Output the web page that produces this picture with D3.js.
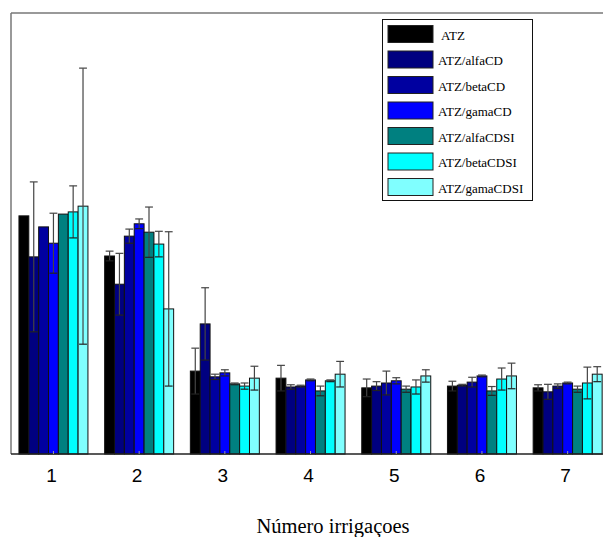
<!DOCTYPE html>
<html>
<head>
<meta charset="utf-8">
<script src="https://cdn.jsdelivr.net/npm/d3@7"></script>
<style>
  body { margin: 0; background: #fff; }
  svg { display: block; }
</style>
</head>
<body>
<script>
// Categories (number of irrigations)
const categories = ["1", "2", "3", "4", "5", "6", "7"];
const seriesNames = ["ATZ", "ATZ/alfaCD", "ATZ/betaCD", "ATZ/gamaCD", "ATZ/alfaCDSI", "ATZ/betaCDSI", "ATZ/gamaCDSI"];
const seriesColors = ["#000000", "#000080", "#0000a0", "#0000ff", "#008080", "#00ffff", "#80ffff"];

// Values (percent of axis height)
const atz         = [54.0, 44.9, 18.8, 17.2, 15.0, 15.4, 15.0];
const alfaCD      = [44.7, 38.5, 29.5, 15.2, 15.4, 15.6, 14.1];
const betaCD      = [51.5, 49.4, 17.5, 15.4, 16.1, 16.3, 15.4];
const gamaCD      = [47.8, 52.2, 18.4, 16.8, 16.6, 17.7, 16.1];
const alfaCDSI    = [54.4, 50.3, 15.9, 14.3, 14.7, 14.3, 14.7];
const betaCDSI    = [54.9, 47.6, 15.4, 16.6, 15.2, 17.0, 16.1];
const gamaCDSI    = [56.2, 32.9, 17.2, 18.1, 17.7, 17.7, 18.1];

// Error (+/-)
const atzErr      = [0.0, 1.1, 5.2, 2.9, 2.0, 1.1, 0.7];
const alfaCDErr   = [17.0, 7.0, 8.2, 0.5, 1.0, 0.2, 1.7];
const betaCDErr   = [0.0, 1.6, 0.6, 0.2, 2.7, 1.1, 0.5];
const gamaCDErr   = [6.8, 1.1, 0.7, 0.2, 0.7, 0.2, 0.2];
const alfaCDSIErr = [0.0, 5.7, 0.2, 1.1, 0.7, 1.0, 0.7];
const betaCDSIErr = [5.9, 2.9, 0.7, 0.2, 1.6, 2.5, 3.6];
const gamaCDSIErr = [31.3, 17.5, 2.7, 2.9, 1.4, 2.9, 1.7];

const values = [atz, alfaCD, betaCD, gamaCD, alfaCDSI, betaCDSI, gamaCDSI];
const errors = [atzErr, alfaCDErr, betaCDErr, gamaCDErr, alfaCDSIErr, betaCDSIErr, gamaCDSIErr];

const W = 603, H = 537;
const plotLeft = 11, plotTop = 13, plotBottom = 454;

const svg = d3.select("body").append("svg").attr("width", W).attr("height", H);

const x0 = d3.scaleBand().domain(categories).range([10.6, 610.5]).paddingInner(0.195).paddingOuter(0.0975);
const x1 = d3.scaleBand().domain(seriesNames).range([0, x0.bandwidth()]).padding(0);
const y = d3.scaleLinear().domain([0, 100]).range([plotBottom, plotTop]);

const data = [];
categories.forEach((c, i) => {
  seriesNames.forEach((s, j) => {
    data.push({cat: c, ser: s, v: values[j][i], e: errors[j][i], color: seriesColors[j]});
  });
});

svg.append("clipPath").attr("id", "clip").append("rect")
  .attr("x", plotLeft).attr("y", 0).attr("width", W - plotLeft).attr("height", plotBottom + 1);

const g = svg.append("g").attr("clip-path", "url(#clip)");

g.selectAll("rect.bar").data(data).enter().append("rect")
  .attr("class", "bar")
  .attr("x", d => x0(d.cat) + x1(d.ser))
  .attr("y", d => y(d.v))
  .attr("width", x1.bandwidth())
  .attr("height", d => plotBottom - y(d.v))
  .attr("fill", d => d.color)
  .attr("stroke", "#111")
  .attr("stroke-width", 1);

// error bars
const eb = g.selectAll("g.err").data(data.filter(d => d.e > 0)).enter().append("g").attr("class", "err");
eb.append("line")
  .attr("x1", d => x0(d.cat) + x1(d.ser) + x1.bandwidth() / 2)
  .attr("x2", d => x0(d.cat) + x1(d.ser) + x1.bandwidth() / 2)
  .attr("y1", d => y(d.v - d.e))
  .attr("y2", d => y(d.v + d.e))
  .attr("stroke", "#444").attr("stroke-width", 1.2);
eb.append("line")
  .attr("x1", d => x0(d.cat) + x1(d.ser) + 1)
  .attr("x2", d => x0(d.cat) + x1(d.ser) + x1.bandwidth() - 1)
  .attr("y1", d => y(d.v + d.e))
  .attr("y2", d => y(d.v + d.e))
  .attr("stroke", "#444").attr("stroke-width", 1.2);
eb.append("line")
  .attr("x1", d => x0(d.cat) + x1(d.ser) + 1)
  .attr("x2", d => x0(d.cat) + x1(d.ser) + x1.bandwidth() - 1)
  .attr("y1", d => y(d.v - d.e))
  .attr("y2", d => y(d.v - d.e))
  .attr("stroke", "#222").attr("stroke-width", 1.2);

// frame
svg.append("line").attr("x1", plotLeft).attr("x2", plotLeft).attr("y1", plotTop).attr("y2", plotBottom)
  .attr("stroke", "#777").attr("stroke-width", 1.5);
svg.append("line").attr("x1", plotLeft).attr("x2", W).attr("y1", plotTop).attr("y2", plotTop)
  .attr("stroke", "#777").attr("stroke-width", 1.5);

// x axis
const xAxis = d3.axisBottom(x0).tickSize(0).tickPadding(15);
const ax = svg.append("g").attr("transform", `translate(-2,${plotBottom})`).call(xAxis);
ax.select(".domain").remove();
ax.selectAll("text").attr("font-family", "Liberation Sans, Arial, sans-serif").attr("font-size", 19).attr("fill", "#000");
svg.append("line").attr("x1", plotLeft).attr("x2", W).attr("y1", plotBottom).attr("y2", plotBottom)
  .attr("stroke", "#222").attr("stroke-width", 1.5);
svg.selectAll("line.tk").data(categories).enter().append("line").attr("class", "tk")
  .attr("x1", d => x0(d) + x0.bandwidth() / 2).attr("x2", d => x0(d) + x0.bandwidth() / 2)
  .attr("y1", plotBottom).attr("y2", plotBottom - 3).attr("stroke", "#999");

svg.append("text").attr("x", 333).attr("y", 533).attr("text-anchor", "middle")
  .attr("font-family", "Liberation Serif, Times New Roman, serif").attr("font-size", 20.5)
  .text("Número irrigaçoes");

// legend
const lg = svg.append("g");
lg.append("rect").attr("x", 382.5).attr("y", 19.5).attr("width", 150).attr("height", 181)
  .attr("fill", "#fff").attr("stroke", "#111").attr("stroke-width", 1);
const items = lg.selectAll("g.item").data(seriesNames).enter().append("g").attr("class", "item")
  .attr("transform", (d, i) => `translate(388,${25.5 + i * 25.5})`);
items.append("rect").attr("width", 45).attr("height", 17)
  .attr("fill", (d, i) => seriesColors[i]).attr("stroke", "#222").attr("stroke-width", 1);
items.append("text").attr("x", (d, i) => i === 0 ? 53 : 50).attr("y", 14)
  .attr("font-family", "Liberation Serif, Times New Roman, serif").attr("font-size", 13)
  .text(d => d);
</script>
</body>
</html>
